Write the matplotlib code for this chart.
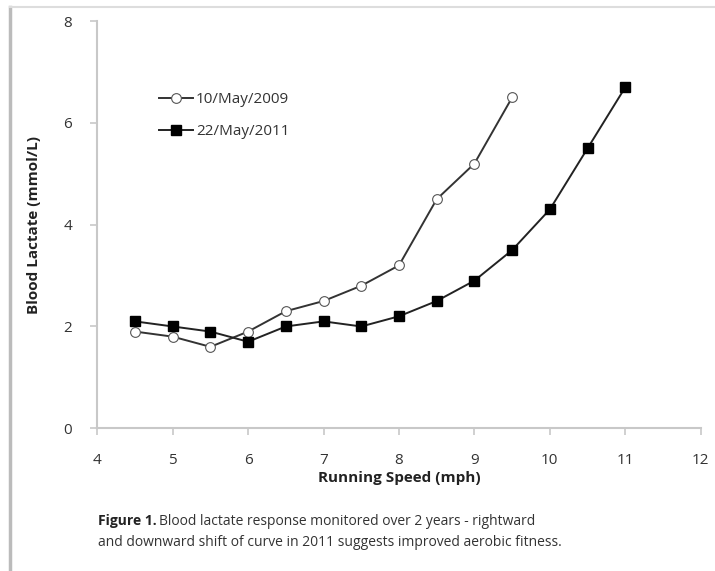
import matplotlib
matplotlib.use('Agg')
import matplotlib.pyplot as plt
from matplotlib.lines import Line2D

# ── Data ──────────────────────────────────────────────────────────────────────
speed_2009 = [4.5, 5, 5.5, 6, 6.5, 7, 7.5, 8, 8.5, 9, 9.5]
lactate_2009 = [1.9, 1.8, 1.6, 1.9, 2.3, 2.5, 2.8, 3.2, 4.5, 5.2, 6.5]
speed_2011 = [4.5, 5, 5.5, 6, 6.5, 7, 7.5, 8, 8.5, 9, 9.5, 10, 10.5, 11]
lactate_2011 = [2.1, 2.0, 1.9, 1.7, 2.0, 2.1, 2.0, 2.2, 2.5, 2.9, 3.5, 4.3, 5.5, 6.7]
label_2009 = "10/May/2009"
label_2011 = "22/May/2011"
x_ticks = [4, 5, 6, 7, 8, 9, 10, 11, 12]
y_ticks = [0, 2, 4, 6, 8]

plt.rcParams['font.family'] = ['Open Sans', 'DejaVu Sans']

fig = plt.figure(figsize=(7.15, 5.71), dpi=100)
ax = fig.add_axes([0.136, 0.250, 0.844, 0.713])

ax.plot(speed_2009, lactate_2009, color='#333333', lw=1.4, marker='o',
        ms=7, mfc='white', mec='#555555', mew=0.8, label=label_2009)
ax.plot(speed_2011, lactate_2011, color='#222222', lw=1.4, marker='s',
        ms=7, mfc='black', mec='black', label=label_2011)

ax.set_xlim(4, 12)
ax.set_ylim(0, 8)
ax.set_xticks(x_ticks)
ax.set_yticks(y_ticks)
for s in ['top', 'right']:
    ax.spines[s].set_visible(False)
for s in ['left', 'bottom']:
    ax.spines[s].set_color('#c8c8c8')
    ax.spines[s].set_linewidth(1.5)
ax.tick_params(direction='out', color='#c8c8c8', length=5, width=1.2,
               labelsize=11, labelcolor='#333333', pad=13)

ax.set_xlabel('Running Speed (mph)', fontsize=11, fontweight='bold',
              color='#222222', labelpad=2)
ax.set_ylabel('Blood Lactate (mmol/L)', fontsize=11, fontweight='bold',
              color='#222222', labelpad=16)

ax.legend(loc='upper left', bbox_to_anchor=(0.08, 0.86), frameon=False,
          fontsize=11, handlelength=2.2, handletextpad=0.2, labelspacing=1.15,
          labelcolor='#333333')

# Caption: bold lead-in followed by normal text on the same line
t_bold = fig.text(0.137, 0.080, 'Figure 1.', fontsize=10, fontweight='bold',
                  color='#222222')
fig.canvas.draw()
bb = t_bold.get_window_extent().transformed(fig.transFigure.inverted())
fig.text(bb.x1 + 0.004, 0.080,
         'Blood lactate response monitored over 2 years - rightward',
         fontsize=10, color='#333333')
fig.text(0.137, 0.044,
         'and downward shift of curve in 2011 suggests improved aerobic fitness.',
         fontsize=10, color='#333333')

# Page frame lines
fig.add_artist(Line2D([0.014, 0.014], [0.0, 0.988], color='#bbbbbb', lw=2.5))
fig.add_artist(Line2D([0.014, 1.0], [0.988, 0.988], color='#dddddd', lw=1.5))

fig.savefig('out.png', dpi=100)
